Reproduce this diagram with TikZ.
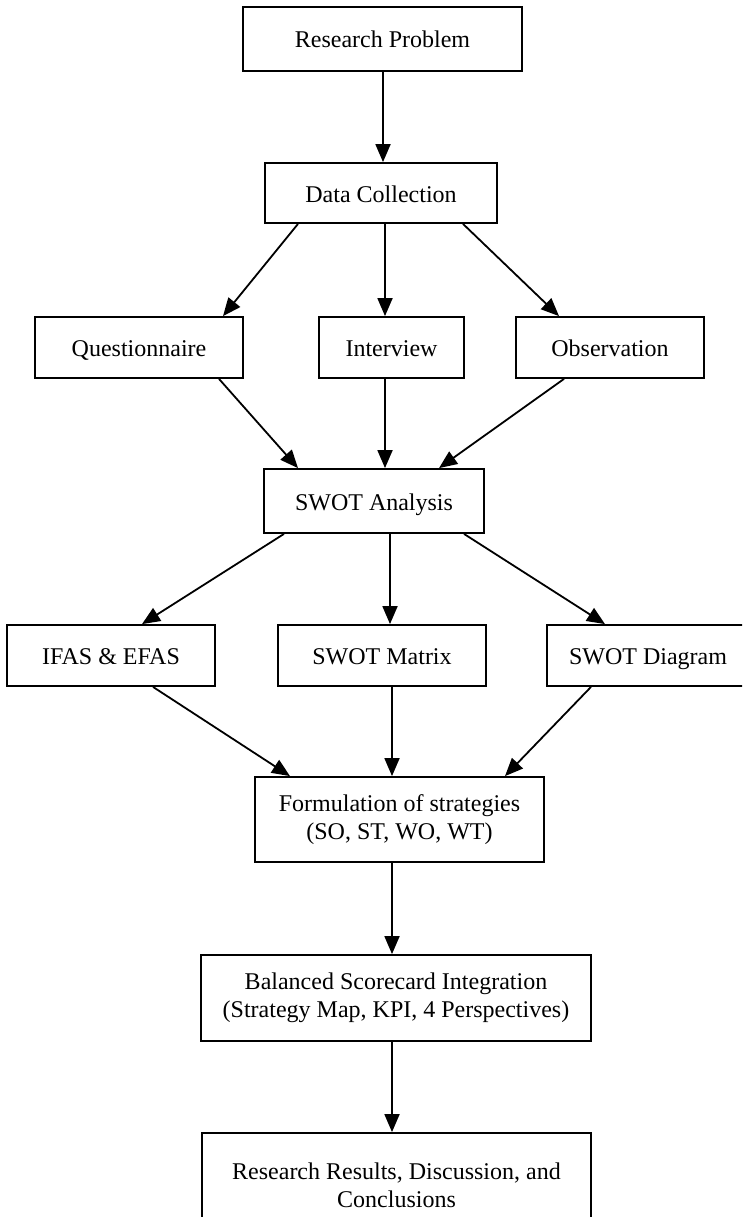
\documentclass[tikz,border=0pt]{standalone}
\usepackage{fontspec}
\setmainfont{Liberation Serif}
\usetikzlibrary{arrows.meta}

\begin{document}
\begin{tikzpicture}[
    x=1pt, y=-1pt,
    box/.style={
        draw,
        rectangle,
        line width=1.8pt,
        align=center,
        inner sep=0pt,
        font=\fontsize{24}{28}\selectfont
    },
    oneline/.style={
        box,
        text height=22pt,
        text depth=4pt
    },
    flow/.style={
        line width=1.8pt,
        -{Triangle[length=18pt,width=15pt]}
    }
]

\useasboundingbox (0,0) rectangle (742,1217);
\clip (0,0) rectangle (742,1217);

\node[oneline, minimum width=279pt, minimum height=64pt] (problem) at (382.5,39) {Research Problem};
\node[oneline, minimum width=232pt, minimum height=60pt] (collection) at (381,193) {Data Collection};

\node[oneline, minimum width=208pt, minimum height=61pt] (questionnaire) at (139,347.5) {Questionnaire};
\node[oneline, minimum width=145pt, minimum height=61pt] (interview) at (391.5,347.5) {Interview};
\node[oneline, minimum width=188pt, minimum height=61pt] (observation) at (610,347.5) {Observation};

\node[oneline, minimum width=220pt, minimum height=64pt] (swot) at (374,501) {SWOT Analysis};

\node[oneline, minimum width=208pt, minimum height=61pt] (ifas) at (111,655.5) {IFAS \& EFAS};
\node[oneline, minimum width=208pt, minimum height=61pt] (matrix) at (382,655.5) {SWOT Matrix};
\node[oneline, minimum width=202pt, minimum height=61pt] (diagram) at (648,655.5) {SWOT Diagram};

\node[box, minimum width=289pt, minimum height=85pt] (strategies) at (399.5,819.5) {Formulation of strategies\\(SO, ST, WO, WT)};
\node[box, minimum width=390pt, minimum height=86pt] (bsc) at (396,998) {Balanced Scorecard Integration\\(Strategy Map, KPI, 4 Perspectives)};
\node[box, minimum width=389pt, minimum height=104pt] (results) at (396.5,1185) {Research Results, Discussion, and\\Conclusions};

\draw[flow] ([xshift=0.5pt]problem.south) -- ([xshift=2pt]collection.north);

\draw[flow] ([xshift=-83pt]collection.south) -- ([xshift=84pt]questionnaire.north);
\draw[flow] ([xshift=4pt]collection.south) -- ([xshift=-6.5pt]interview.north);
\draw[flow] ([xshift=82pt]collection.south) -- ([xshift=-51pt]observation.north);

\draw[flow] ([xshift=80pt]questionnaire.south) -- ([xshift=-76pt]swot.north);
\draw[flow] ([xshift=-6.5pt]interview.south) -- ([xshift=11pt]swot.north);
\draw[flow] ([xshift=-46pt]observation.south) -- ([xshift=65pt]swot.north);

\draw[flow] ([xshift=-90pt]swot.south) -- ([xshift=31pt]ifas.north);
\draw[flow] ([xshift=16pt]swot.south) -- ([xshift=8pt]matrix.north);
\draw[flow] ([xshift=90pt]swot.south) -- ([xshift=-43pt]diagram.north);

\draw[flow] ([xshift=42pt]ifas.south) -- ([xshift=-109.5pt]strategies.north);
\draw[flow] ([xshift=10pt]matrix.south) -- ([xshift=-7.5pt]strategies.north);
\draw[flow] ([xshift=-57pt]diagram.south) -- ([xshift=105.5pt]strategies.north);

\draw[flow] ([xshift=-7.5pt]strategies.south) -- ([xshift=-4pt]bsc.north);
\draw[flow] ([xshift=-4pt]bsc.south) -- ([xshift=-4.5pt]results.north);

\end{tikzpicture}
\end{document}
